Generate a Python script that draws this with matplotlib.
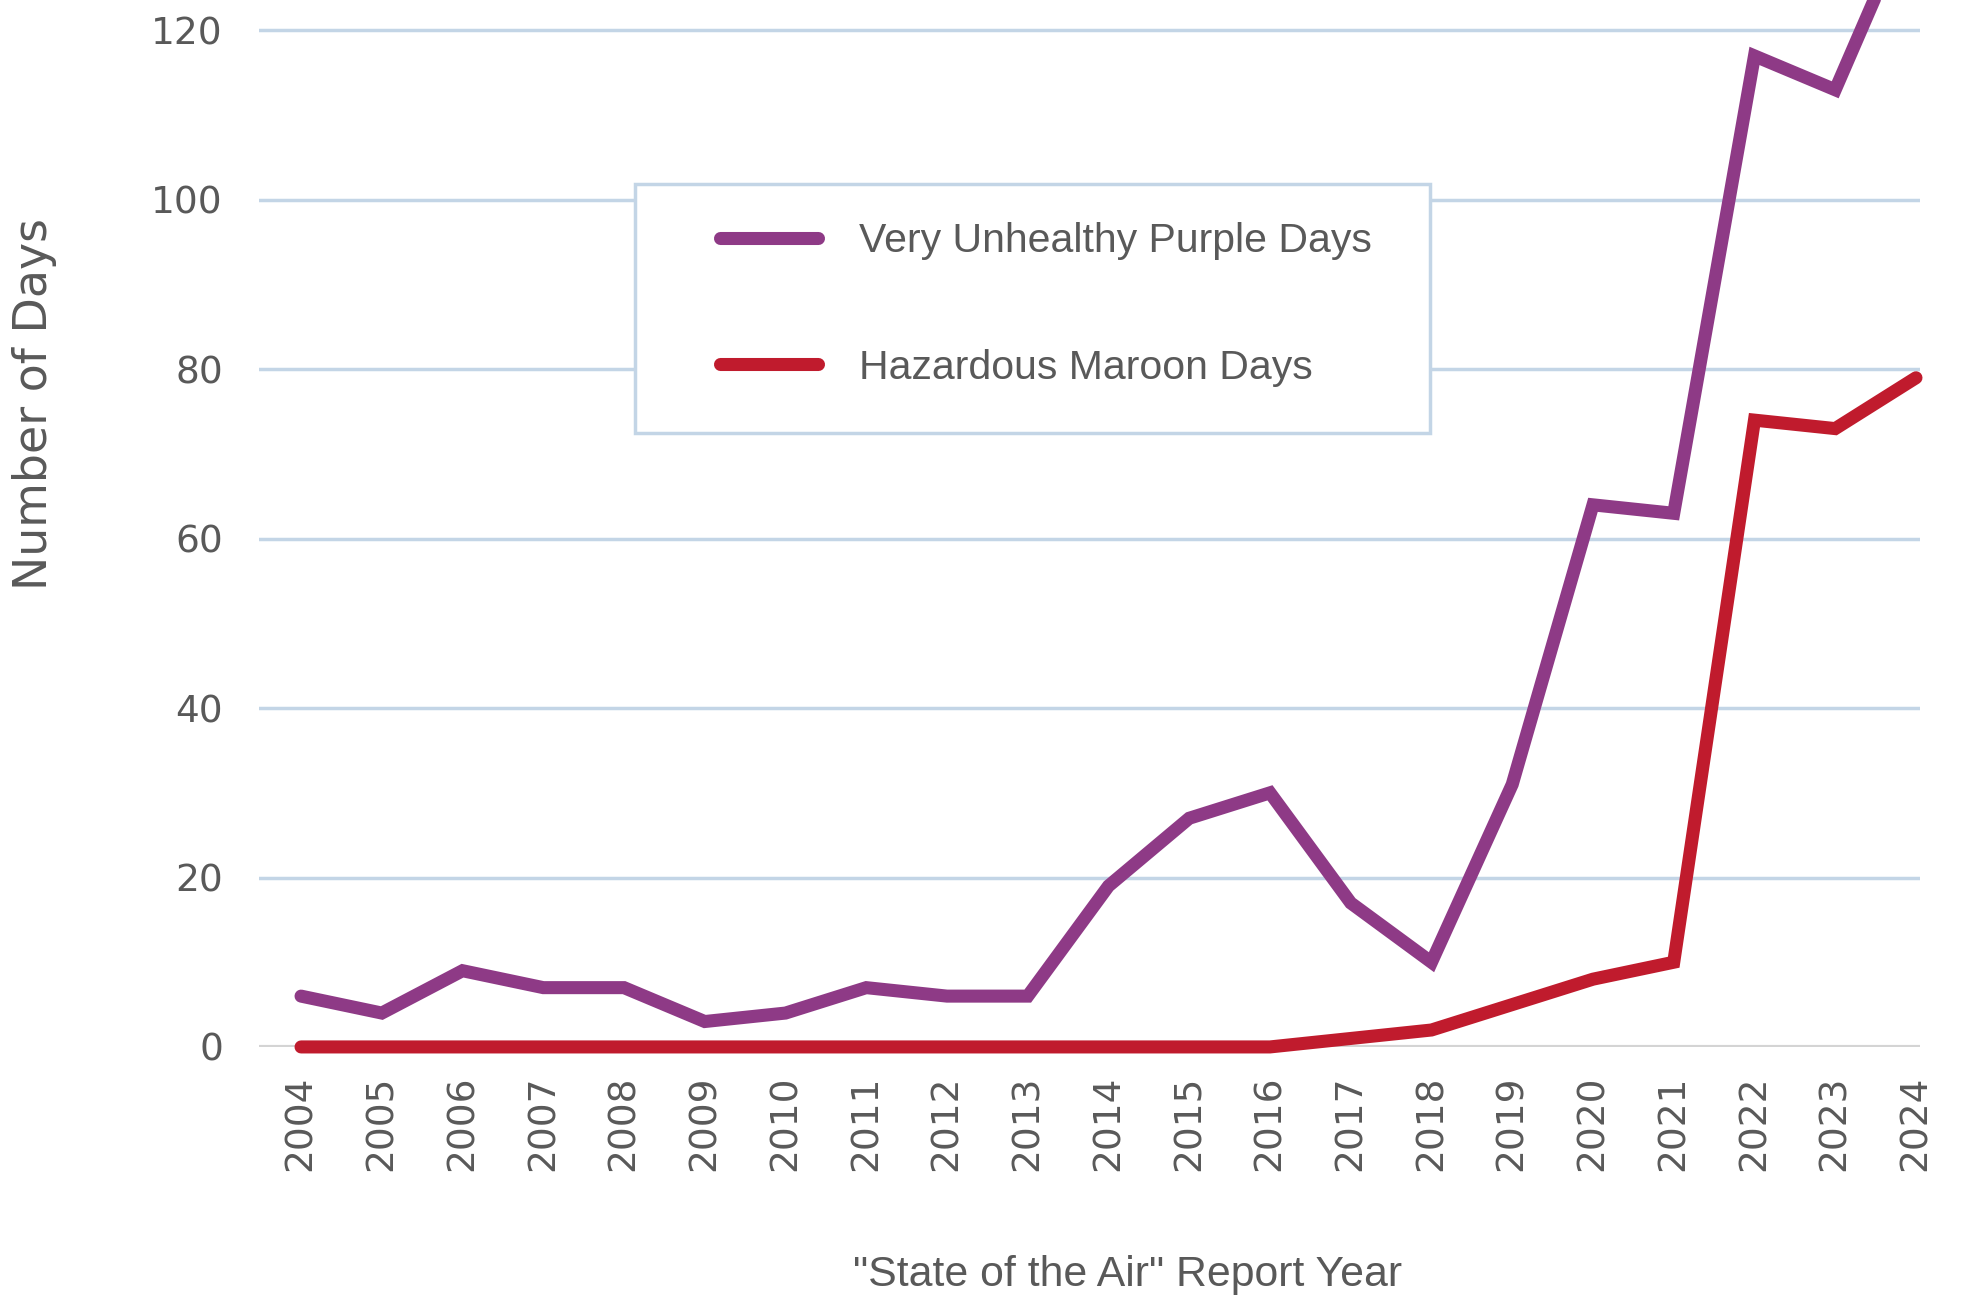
import matplotlib
matplotlib.use('Agg')
import matplotlib.pyplot as plt
from matplotlib.patches import Rectangle

years = [2004, 2005, 2006, 2007, 2008, 2009, 2010, 2011, 2012, 2013, 2014,
         2015, 2016, 2017, 2018, 2019, 2020, 2021, 2022, 2023, 2024]
purple_days = [6, 4, 9, 7, 7, 3, 4, 7, 6, 6, 19,
               27, 30, 17, 10, 31, 64, 63, 117, 113, 135]
maroon_days = [0, 0, 0, 0, 0, 0, 0, 0, 0, 0, 0,
               0, 0, 1, 2, 5, 8, 10, 74, 73, 79]
y_ticks = [0, 20, 40, 60, 80, 100, 120]

text_color = '#595959'
grid_color = '#c3d5e6'

fig = plt.figure(figsize=(19.64, 13.02), dpi=100)
ax = fig.add_axes([0.1319, 0.1959, 0.8457, 0.8041])

for y in y_ticks[1:]:
    ax.axhline(y, color=grid_color, lw=2.5, zorder=1)
ax.axhline(0, color='#d4d4d4', lw=3, zorder=1)

ax.plot(years, purple_days, color='#8e3a86', lw=9.4, solid_capstyle='round',
        solid_joinstyle='miter', clip_on=False, zorder=3, label='Very Unhealthy Purple Days')
ax.plot(years, maroon_days, color='#c01b2d', lw=9.4, solid_capstyle='round',
        solid_joinstyle='miter', clip_on=False, zorder=3, label='Hazardous Maroon Days')

ax.set_xlim(2003.48, 2024.05)
ax.set_ylim(0, 123.6)
ax.set_xticks(years)
ax.set_xticklabels([str(y) for y in years], rotation=90, va='bottom',
                   fontsize=27, color=text_color)
ax.set_yticks(y_ticks)
ax.set_yticklabels([str(y) for y in y_ticks], fontsize=27, color=text_color)
ax.tick_params(axis='x', length=0, pad=89)
ax.tick_params(axis='y', length=0, pad=26)
for s in ax.spines.values():
    s.set_visible(False)

# legend box drawn by hand so the padding matches
ax.add_patch(Rectangle((0.2264, 0.5864), 0.4786, 0.2379, transform=ax.transAxes,
                       facecolor='white', edgecolor=grid_color, lw=2.5, zorder=4))
leg = ax.legend(loc='upper left', bbox_to_anchor=(0.2775, 0.7875), frameon=False,
                borderpad=0, borderaxespad=0, handlelength=2.4, handletextpad=1.0,
                labelspacing=2.15, prop={'family': 'Liberation Sans', 'size': 29.5})
leg.set_zorder(5)
for t in leg.get_texts():
    t.set_color(text_color)

fig.text(35 / 1964, 1 - 404 / 1302, 'Number of Days', rotation=90, ha='center',
         va='center', fontsize=33, color=text_color)
fig.text(1128 / 1964, 1 - 1275 / 1302, '"State of the Air" Report Year', ha='center',
         va='center', fontsize=30.8, color=text_color, family='Liberation Sans')

plt.savefig('out.png', dpi=100)
